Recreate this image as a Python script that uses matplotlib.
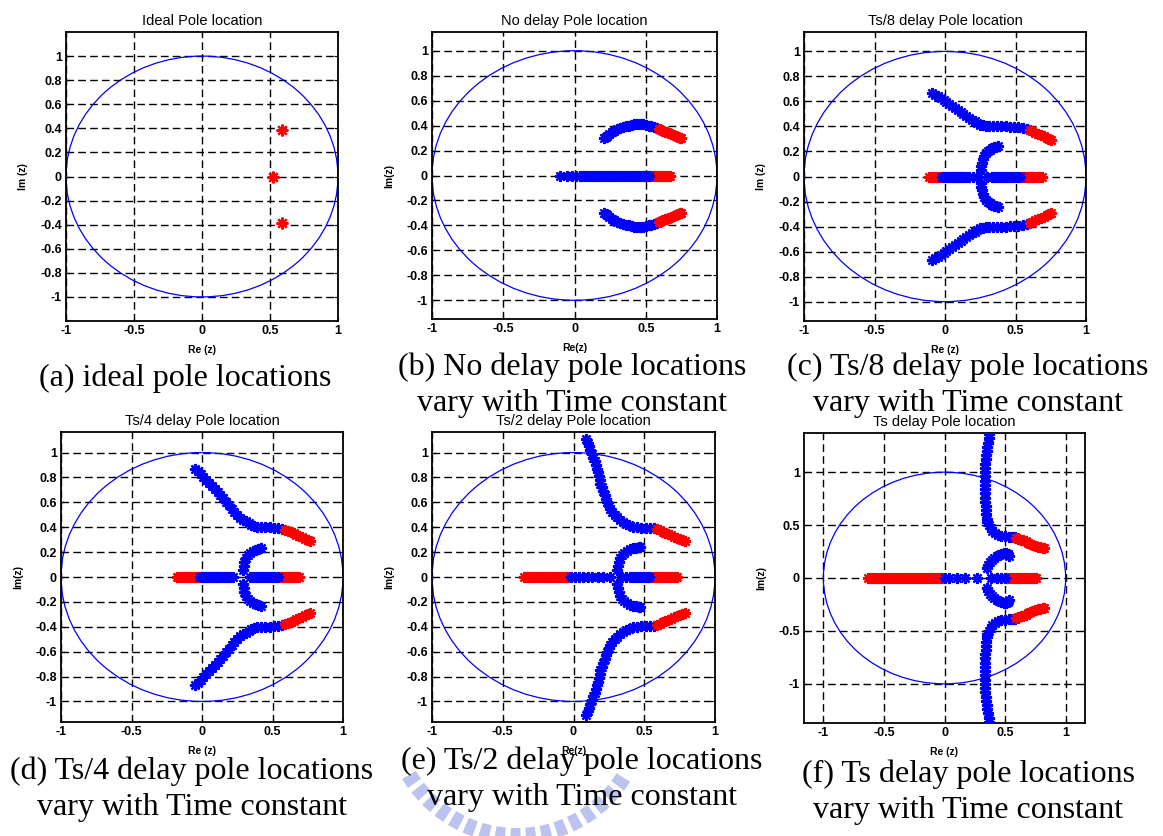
import numpy as np
import matplotlib
matplotlib.use("Agg")
import matplotlib.pyplot as plt
from matplotlib.patches import Circle, Wedge
from matplotlib.transforms import IdentityTransform

W, H = 1163, 836
RED = "#ff0000"
BLUE = "#0000ff"

# ---------------------------------------------------------------------------
# Pole data.  Complex branches are given for the upper half plane only;
# their conjugates are drawn as the lower half.
# ---------------------------------------------------------------------------
A_POLES = [0.59 + 0.39j, 0.52 + 0.0j, 0.59 - 0.39j]

# (b) no delay
B_UP_BLUE = [0.21+0.30j, 0.22+0.31j, 0.23+0.32j, 0.245+0.335j, 0.26+0.345j,
             0.28+0.36j, 0.30+0.37j, 0.32+0.38j, 0.34+0.39j, 0.36+0.395j,
             0.38+0.40j, 0.40+0.405j, 0.42+0.41j, 0.44+0.412j, 0.46+0.412j,
             0.48+0.41j, 0.50+0.405j, 0.52+0.40j, 0.54+0.395j, 0.56+0.388j,
             0.58+0.38j]
B_UP_RED = [0.59+0.375j, 0.605+0.368j, 0.62+0.36j, 0.635+0.352j, 0.65+0.345j,
            0.665+0.338j, 0.68+0.33j, 0.695+0.323j, 0.71+0.316j, 0.725+0.31j,
            0.74+0.304j, 0.75+0.30j]
B_IN_BLUE = []
B_RE_BLUE = [-0.10, -0.05, -0.02, 0.01, 0.04, 0.06, 0.08, 0.10, 0.12, 0.14,
             0.16, 0.18, 0.20, 0.22, 0.24, 0.26, 0.28, 0.30, 0.32, 0.34, 0.36,
             0.38, 0.40, 0.42, 0.44, 0.46, 0.48, 0.50, 0.52]
B_RE_RED = [0.54, 0.555, 0.57, 0.585, 0.60, 0.615, 0.63, 0.645, 0.66, 0.67]

# (c) Ts/8 delay
C_UP_BLUE = [-0.09+0.665j, -0.07+0.655j, -0.05+0.64j, -0.03+0.625j,
             -0.01+0.61j, 0.01+0.595j, 0.03+0.58j, 0.05+0.565j, 0.07+0.548j,
             0.09+0.532j, 0.11+0.517j, 0.13+0.50j, 0.15+0.485j, 0.17+0.47j,
             0.19+0.455j, 0.21+0.44j, 0.23+0.427j, 0.25+0.415j, 0.27+0.408j,
             0.29+0.403j, 0.31+0.40j, 0.34+0.40j, 0.37+0.40j, 0.40+0.40j,
             0.43+0.40j, 0.46+0.398j, 0.49+0.395j, 0.52+0.392j, 0.55+0.387j,
             0.58+0.38j]
C_UP_RED = [0.60+0.37j, 0.62+0.36j, 0.64+0.35j, 0.66+0.34j, 0.68+0.33j,
            0.70+0.32j, 0.72+0.31j, 0.74+0.30j, 0.755+0.295j]
C_IN_BLUE = [0.255+0.05j, 0.258+0.08j, 0.262+0.11j, 0.27+0.14j, 0.28+0.165j,
             0.29+0.185j, 0.305+0.20j, 0.32+0.215j, 0.335+0.225j,
             0.35+0.232j, 0.365+0.238j, 0.375+0.24j]
C_RE_BLUE = [-0.02, -0.005, 0.01, 0.025, 0.04, 0.055, 0.07, 0.085, 0.10,
             0.115, 0.13, 0.15, 0.17, 0.20, 0.23, 0.30, 0.33, 0.35, 0.37, 0.39,
             0.41, 0.43, 0.45, 0.47, 0.49, 0.51, 0.53]
C_RE_RED = [-0.11, -0.095, -0.08, -0.065, -0.05, -0.035, 0.55, 0.565, 0.58,
            0.595, 0.61, 0.625, 0.64, 0.655, 0.67, 0.685]

# (d) Ts/4 delay
D_UP_BLUE = [-0.05+0.87j, -0.03+0.85j, -0.01+0.83j, 0.01+0.805j, 0.03+0.78j,
             0.05+0.755j, 0.07+0.73j, 0.09+0.71j, 0.11+0.685j, 0.13+0.66j,
             0.15+0.635j, 0.17+0.605j, 0.19+0.575j, 0.21+0.55j, 0.23+0.52j,
             0.25+0.495j, 0.27+0.475j, 0.29+0.46j, 0.31+0.447j, 0.33+0.435j,
             0.35+0.42j, 0.37+0.41j, 0.39+0.405j, 0.42+0.40j, 0.45+0.40j,
             0.48+0.398j, 0.51+0.395j, 0.54+0.39j, 0.57+0.385j]
D_UP_RED = [0.59+0.38j, 0.61+0.37j, 0.63+0.36j, 0.65+0.35j, 0.67+0.34j,
            0.69+0.33j, 0.71+0.32j, 0.73+0.308j, 0.75+0.298j, 0.765+0.29j]
D_IN_BLUE = [0.29+0.06j, 0.295+0.09j, 0.30+0.12j, 0.31+0.15j, 0.325+0.175j,
             0.34+0.195j, 0.36+0.21j, 0.38+0.22j, 0.40+0.228j, 0.42+0.232j]
D_RE_BLUE = [-0.015, 0.0, 0.015, 0.03, 0.045, 0.06, 0.075, 0.09, 0.105, 0.12,
             0.14, 0.16, 0.18, 0.20, 0.22, 0.34, 0.36, 0.38, 0.40, 0.42, 0.44,
             0.46, 0.48, 0.50, 0.52, 0.54]
D_RE_RED = [-0.18, -0.165, -0.15, -0.135, -0.12, -0.105, -0.09, -0.075,
            -0.06, -0.045, -0.03, 0.555, 0.57, 0.585, 0.60, 0.615, 0.63,
            0.645, 0.66, 0.675, 0.69]

# (e) Ts/2 delay
E_UP_BLUE = [0.09+1.11j, 0.10+1.08j, 0.11+1.05j, 0.12+1.02j, 0.13+0.99j,
             0.14+0.96j, 0.15+0.93j, 0.16+0.90j, 0.165+0.87j, 0.17+0.84j,
             0.18+0.81j, 0.185+0.78j, 0.19+0.75j, 0.20+0.72j, 0.21+0.69j,
             0.22+0.66j, 0.23+0.63j, 0.24+0.60j, 0.25+0.57j, 0.26+0.545j,
             0.275+0.52j, 0.29+0.50j, 0.31+0.48j, 0.33+0.46j, 0.35+0.44j,
             0.37+0.425j, 0.39+0.415j, 0.42+0.405j, 0.45+0.40j, 0.48+0.397j,
             0.51+0.395j, 0.54+0.392j, 0.57+0.39j]
E_UP_RED = [0.59+0.385j, 0.61+0.375j, 0.63+0.365j, 0.65+0.355j, 0.67+0.345j,
            0.69+0.335j, 0.71+0.325j, 0.73+0.315j, 0.75+0.305j, 0.77+0.297j,
            0.785+0.29j]
E_IN_BLUE = [0.31+0.06j, 0.315+0.09j, 0.32+0.12j, 0.33+0.15j, 0.345+0.175j,
             0.36+0.195j, 0.38+0.21j, 0.40+0.222j, 0.42+0.23j, 0.44+0.235j,
             0.46+0.238j, 0.47+0.24j]
E_RE_BLUE = [-0.015, 0.01, 0.04, 0.07, 0.10, 0.13, 0.17, 0.21, 0.26, 0.34,
             0.37, 0.40, 0.42, 0.44, 0.46, 0.48, 0.50, 0.52, 0.535]
E_RE_RED = [-0.35, -0.33, -0.31, -0.29, -0.27, -0.25, -0.23, -0.21, -0.19,
            -0.17, -0.15, -0.13, -0.11, -0.09, -0.07, -0.05, -0.03, 0.55,
            0.565, 0.58, 0.595, 0.61, 0.625, 0.64, 0.655, 0.67, 0.685, 0.70,
            0.715, 0.73]

# (f) Ts delay
F_UP_BLUE = [0.37+1.36j, 0.365+1.32j, 0.36+1.28j, 0.355+1.24j, 0.35+1.20j,
             0.345+1.16j, 0.34+1.12j, 0.337+1.08j, 0.335+1.04j, 0.333+1.00j,
             0.332+0.96j, 0.332+0.92j, 0.332+0.88j, 0.333+0.84j, 0.335+0.80j,
             0.336+0.76j, 0.338+0.72j, 0.34+0.68j, 0.342+0.64j, 0.345+0.60j,
             0.35+0.56j, 0.355+0.53j, 0.365+0.50j, 0.38+0.47j, 0.395+0.445j,
             0.415+0.425j, 0.44+0.41j, 0.47+0.40j, 0.50+0.393j, 0.53+0.389j,
             0.56+0.386j, 0.58+0.383j]
F_UP_RED = [0.59+0.38j, 0.61+0.372j, 0.63+0.363j, 0.65+0.355j, 0.67+0.345j,
            0.69+0.335j, 0.71+0.325j, 0.73+0.315j, 0.75+0.305j, 0.77+0.297j,
            0.79+0.29j, 0.81+0.283j, 0.82+0.28j]
F_IN_BLUE = [0.35+0.09j, 0.36+0.12j, 0.375+0.15j, 0.39+0.17j, 0.41+0.19j,
             0.43+0.205j, 0.45+0.215j, 0.47+0.225j, 0.49+0.232j, 0.51+0.235j,
             0.525+0.225j, 0.53+0.21j]
F_RE_BLUE = [0.0, 0.04, 0.10, 0.17, 0.27, 0.38, 0.43, 0.47, 0.50]
F_RE_RED = [-0.635, -0.61, -0.585, -0.56, -0.535, -0.51, -0.485, -0.46,
            -0.435, -0.41, -0.385, -0.36, -0.335, -0.31, -0.285, -0.26,
            -0.235, -0.21, -0.185, -0.16, -0.14, -0.12, -0.10, -0.08, -0.06,
            -0.04, -0.02, 0.52, 0.54, 0.56, 0.58, 0.60, 0.62, 0.64, 0.66,
            0.68, 0.70, 0.72, 0.74, 0.755]

TITLES = ["Ideal Pole location", "No delay Pole location",
          "Ts/8 delay Pole location", "Ts/4 delay Pole location",
          "Ts/2 delay Pole location", "Ts delay Pole location"]
XLABELS = ["Re (z)", "Re(z)", "Re (z)", "Re (z)", "Re(z)", "Re (z)"]
YLABELS = ["Im (z)", "Im(z)", "Im (z)", "Im(z)", "Im(z)", "Im(z)"]
CAPTIONS = [["(a) ideal pole locations"],
            ["(b) No delay pole locations", "vary with Time constant"],
            ["(c) Ts/8 delay pole locations", "vary with Time constant"],
            ["(d) Ts/4 delay pole locations", "vary with Time constant"],
            ["(e) Ts/2 delay pole locations", "vary with Time constant"],
            ["(f) Ts delay pole locations", "vary with Time constant"]]
XTICKS = [-1, -0.5, 0, 0.5, 1]
YTICKS_FINE = [-1, -0.8, -0.6, -0.4, -0.2, 0, 0.2, 0.4, 0.6, 0.8, 1]
YTICKS_COARSE = [-1, -0.5, 0, 0.5, 1]

# axes boxes in pixels: left, right, top, bottom
BOXES = [(66, 338, 32, 321), (432, 717, 32, 319), (804, 1086, 32, 321),
         (61, 343, 432, 722), (432, 715, 432, 722), (804, 1085, 433, 723)]
XLIMS = [1.0, 1.0, 1.0, 1.0, 1.0, 1.16]
YLIMS = [1.2, 1.15, 1.155, 1.165, 1.165, 1.37]
# caption centres (x, first-line y) in pixels
CAP_POS = [(185, 378), (572, 367), (968, 367), (192, 771), (582, 761),
           (968, 774)]

LOCI = [None,
        (B_UP_BLUE, B_UP_RED, B_IN_BLUE, B_RE_BLUE, B_RE_RED),
        (C_UP_BLUE, C_UP_RED, C_IN_BLUE, C_RE_BLUE, C_RE_RED),
        (D_UP_BLUE, D_UP_RED, D_IN_BLUE, D_RE_BLUE, D_RE_RED),
        (E_UP_BLUE, E_UP_RED, E_IN_BLUE, E_RE_BLUE, E_RE_RED),
        (F_UP_BLUE, F_UP_RED, F_IN_BLUE, F_RE_BLUE, F_RE_RED)]

SANS = "Liberation Sans"
SERIF = "Liberation Serif"
STAR = (8, 2, 0)


def rect(l, r, t, b):
    return [l / W, 1 - b / H, (r - l) / W, (b - t) / H]


def plot_pts(ax, pts, color, mirror=False, ms=8):
    p = np.asarray(pts, dtype=complex)
    if p.size == 0:
        return
    if mirror:
        p = np.concatenate([p, p.conj()])
    ax.plot(p.real, p.imag, linestyle="none", marker=STAR, ms=ms, mew=1.6,
            color=color, zorder=3)


def fmt(v):
    return f"{v:g}"


fig = plt.figure(figsize=(W / 100, H / 100), dpi=100)
fig.patch.set_facecolor("white")

# faint ring emblem behind the bottom captions
cx, cy = 517, H - 710
for k in range(17):
    a0 = 211 + k * 7.0
    fig.add_artist(Wedge((cx, cy), 134, a0, a0 + 4.6, width=16,
                         transform=IdentityTransform(), facecolor="#abb5ea",
                         edgecolor="none", alpha=0.8, zorder=0))

for i in range(6):
    ax = fig.add_axes(rect(*BOXES[i]))
    xl, yl = XLIMS[i], YLIMS[i]
    ax.set_xlim(-xl, xl)
    ax.set_ylim(-yl, yl)
    yt = YTICKS_COARSE if i == 5 else YTICKS_FINE
    ax.set_xticks(XTICKS)
    ax.set_xticklabels([fmt(v) for v in XTICKS])
    ax.set_yticks(yt)
    ax.set_yticklabels([fmt(v) for v in yt])
    ax.tick_params(direction="in", length=3, width=0.8, labelsize=9,
                   pad=3, top=True, right=True)
    for lab in ax.get_xticklabels() + ax.get_yticklabels():
        lab.set_fontfamily(SANS)
        lab.set_fontweight("bold")
    ax.grid(True, color="black", linestyle=(0, (5.5, 3)), linewidth=1.0)
    ax.set_axisbelow(True)
    for s in ax.spines.values():
        s.set_linewidth(1.3)

    ax.add_patch(Circle((0, 0), 1.0, fill=False, edgecolor=BLUE,
                        linewidth=0.9, zorder=2))

    if i == 0:
        p = np.asarray(A_POLES)
        ax.plot(p.real, p.imag, linestyle="none", marker=STAR, ms=8.5,
                mew=1.6, color=RED, zorder=3)
    else:
        up_b, up_r, in_b, re_b, re_r = LOCI[i]
        plot_pts(ax, up_b, BLUE, mirror=True)
        plot_pts(ax, up_r, RED, mirror=True)
        plot_pts(ax, in_b, BLUE, mirror=True)
        plot_pts(ax, np.asarray(re_r, dtype=complex), RED)
        plot_pts(ax, np.asarray(re_b, dtype=complex), BLUE)

    ax.set_title(TITLES[i], fontsize=10.5, family=SANS, pad=5)
    ax.set_xlabel(XLABELS[i], fontsize=7.5, family=SANS, fontweight="bold")
    ax.set_ylabel(YLABELS[i], fontsize=7.5, family=SANS, fontweight="bold")
    l, r, t, b = BOXES[i]
    ax.xaxis.set_label_coords(0.5, -24 / (b - t))
    ax.yaxis.set_label_coords(-38 / (r - l), 0.5)

    x0, y0 = CAP_POS[i]
    for j, line in enumerate(CAPTIONS[i]):
        fig.text(x0 / W, 1 - (y0 + 36.5 * j) / H, line, ha="center",
                 va="center", fontsize=23, family=SERIF, zorder=5)

fig.savefig("out.png", dpi=100, facecolor="white")
